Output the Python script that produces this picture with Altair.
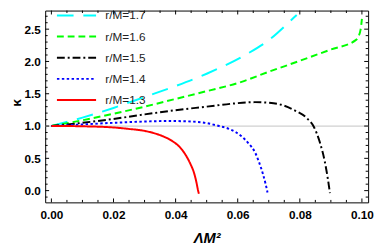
import altair as alt
import pandas as pd

# ---- data ----
names = ["r/M=1.7", "r/M=1.6", "r/M=1.5", "r/M=1.4", "r/M=1.3"]
colors = ["#00ffff", "#00ff00", "#000000", "#0000ff", "#ff0000"]
dashes = [[17, 10], [7, 4], [8, 3, 2, 3], [2.5, 2.5], [1, 0]]

x_17 = [0, 0.01, 0.02, 0.03, 0.04, 0.05, 0.0624, 0.07, 0.0781, 0.079]
y_17 = [1.0, 1.13, 1.28, 1.45, 1.62, 1.81, 2.10, 2.33, 2.68, 2.72]

x_16 = [0, 0.01, 0.02, 0.03, 0.04, 0.05, 0.06, 0.07, 0.08, 0.09, 0.098, 0.0987, 0.0996, 0.1]
y_16 = [1.0, 1.09, 1.19, 1.30, 1.42, 1.54, 1.665, 1.84, 2.01, 2.185, 2.33, 2.37, 2.50, 2.66]

x_15 = [0, 0.01, 0.02, 0.03, 0.04, 0.05, 0.059, 0.0655, 0.07, 0.074, 0.078, 0.0823, 0.0845, 0.0865, 0.088, 0.0891, 0.0897]
y_15 = [1.0, 1.05, 1.11, 1.18, 1.245, 1.30, 1.35, 1.37, 1.36, 1.33, 1.25, 1.12, 0.99, 0.74, 0.46, 0.16, -0.04]

x_14 = [0, 0.01, 0.02, 0.03, 0.038, 0.045, 0.05, 0.054, 0.0575, 0.061, 0.0635, 0.0655, 0.0668, 0.0681, 0.069, 0.0696]
y_14 = [1.0, 1.025, 1.05, 1.07, 1.078, 1.07, 1.045, 1.0, 0.95, 0.85, 0.73, 0.60, 0.45, 0.26, 0.10, -0.03]

x_13 = [0, 0.005, 0.01, 0.015, 0.02, 0.025, 0.03, 0.033, 0.036, 0.039, 0.041, 0.043, 0.0448, 0.0459, 0.0467, 0.0472, 0.0475]
y_13 = [1.0, 1.0, 0.996, 0.99, 0.978, 0.955, 0.925, 0.89, 0.84, 0.765, 0.69, 0.57, 0.41, 0.28, 0.13, 0.01, -0.05]

x_labels = [0.0, 0.02, 0.04, 0.06, 0.08, 0.10]
x_minor = [0.005, 0.01, 0.015, 0.025, 0.03, 0.035, 0.045, 0.05, 0.055,
           0.065, 0.07, 0.075, 0.085, 0.09, 0.095]
y_labels = [0.0, 0.5, 1.0, 1.5, 2.0, 2.5]
y_minor = [-0.1, 0.1, 0.2, 0.3, 0.4, 0.6, 0.7, 0.8, 0.9, 1.1, 1.2, 1.3, 1.4,
           1.6, 1.7, 1.8, 1.9, 2.1, 2.2, 2.3, 2.4, 2.6, 2.7]
ref_line = [1.0]

# ---- build table ----
xs_all = [x_17, x_16, x_15, x_14, x_13]
ys_all = [y_17, y_16, y_15, y_14, y_13]
rows = []
for n, xx, yy in zip(names, xs_all, ys_all):
    for a, b in zip(xx, yy):
        rows.append({"x": a, "y": b, "series": n})
df = pd.DataFrame(rows)

W, H = 330, 196
FONT = "Liberation Sans"
xs = alt.Scale(domain=[-0.002, 0.102], nice=False, zero=False)
ys = alt.Scale(domain=[-0.182, 2.788], nice=False, zero=False)

xaxis = alt.Axis(values=x_labels, format=".2f", ticks=False, domain=False, grid=False,
                 labelPadding=7, labelFontSize=12, labelFontWeight="bold", labelFont=FONT,
                 labelColor="black", labelFlush=False, labelOverlap=False,
                 title="ΛM²", titleFont=FONT, titleFontSize=15, titleFontWeight="bold",
                 titleFontStyle="italic", titleColor="black", titleX=165, titleY=41,
                 titleAlign="center", titleBaseline="alphabetic")
yaxis = alt.Axis(values=y_labels, format=".1f", ticks=False, domain=False, grid=False,
                 labelPadding=5, labelFontSize=12, labelFontWeight="bold", labelFont=FONT,
                 labelColor="black", labelFlush=False, labelOverlap=False,
                 title="κ", titleFont=FONT, titleFontSize=14, titleFontWeight="bold",
                 titleColor="black", titleX=-25, titleY=94, titleAngle=270,
                 titleAlign="center", titleBaseline="alphabetic")

gray = alt.Chart(pd.DataFrame({"y": ref_line})).mark_rule(color="#d0d0d0", strokeWidth=1.2).encode(
    y=alt.Y("y:Q", scale=ys, axis=yaxis))

curves = alt.Chart(df).mark_line(strokeWidth=2, interpolate="monotone", strokeCap="butt", clip=True).encode(
    x=alt.X("x:Q", scale=xs, axis=xaxis),
    y=alt.Y("y:Q", scale=ys, axis=yaxis),
    color=alt.Color("series:N", scale=alt.Scale(domain=names, range=colors), legend=None),
    strokeDash=alt.StrokeDash("series:N", scale=alt.Scale(domain=names, range=dashes), legend=None),
)

def xticks(vals, length):
    d = pd.DataFrame({"x": vals})
    b = alt.Chart(d).mark_rule(color="black", strokeWidth=1).encode(
        x=alt.X("x:Q", scale=xs, axis=xaxis), y=alt.value(H), y2=alt.value(H - length))
    t = alt.Chart(d).mark_rule(color="black", strokeWidth=1).encode(
        x=alt.X("x:Q", scale=xs, axis=xaxis), y=alt.value(0), y2=alt.value(length))
    return [b, t]

def yticks(vals, length):
    d = pd.DataFrame({"y": vals})
    l = alt.Chart(d).mark_rule(color="black", strokeWidth=1).encode(
        y=alt.Y("y:Q", scale=ys, axis=yaxis), x=alt.value(0), x2=alt.value(length))
    r = alt.Chart(d).mark_rule(color="black", strokeWidth=1).encode(
        y=alt.Y("y:Q", scale=ys, axis=yaxis), x=alt.value(W), x2=alt.value(W - length))
    return [l, r]

ticks = xticks(x_labels, 4) + xticks(x_minor, 2.5) + yticks(y_labels, 4) + yticks(y_minor, 2.5)

legend = []
for i, (n, c, d) in enumerate(zip(names, colors, dashes)):
    ry = 5.0 + 21.6 * i
    ld = pd.DataFrame({"label": [n]})
    legend.append(alt.Chart(ld).mark_rule(color=c, strokeWidth=2, strokeDash=d, strokeCap="butt").encode(
        x=alt.value(12), x2=alt.value(52), y=alt.value(ry)))
    legend.append(alt.Chart(ld).mark_text(align="left", baseline="middle", font=FONT, fontSize=12,
                                          color="#222222").encode(
        text="label:N", x=alt.value(61.5), y=alt.value(ry)))

chart = alt.layer(gray, curves, *ticks, *legend).properties(
    width=W, height=H,
    autosize=alt.AutoSizeParams(type="none"),
    padding={"left": 38, "top": 0, "right": 6, "bottom": 44},
).configure_view(stroke="black", strokeWidth=1)

chart.save("out.html", embed_options={"renderer": "svg", "actions": False})
